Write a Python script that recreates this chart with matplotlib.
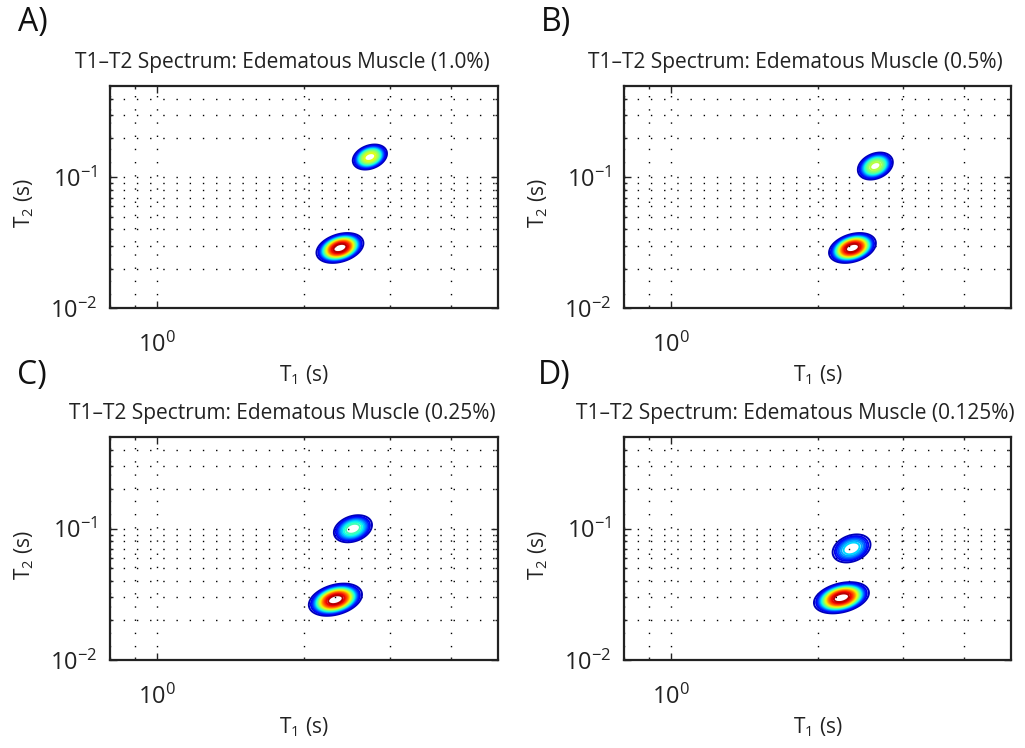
import numpy as np
import matplotlib
matplotlib.use("Agg")
import matplotlib.pyplot as plt
from matplotlib.colors import Normalize
from matplotlib.ticker import FixedLocator, FixedFormatter, NullFormatter

plt.rcParams['font.family'] = ['Open Sans', 'DejaVu Sans']
plt.rcParams['mathtext.fontset'] = 'custom'
plt.rcParams['mathtext.rm'] = 'Open Sans'
plt.rcParams['mathtext.it'] = 'Open Sans'
plt.rcParams['mathtext.bf'] = 'Open Sans'

# ---------------- data ----------------
panel_labels = ['A)', 'B)', 'C)', 'D)']
titles = ['T1\u2013T2 Spectrum: Edematous Muscle (1.0%)',
          'T1\u2013T2 Spectrum: Edematous Muscle (0.5%)',
          'T1\u2013T2 Spectrum: Edematous Muscle (0.25%)',
          'T1\u2013T2 Spectrum: Edematous Muscle (0.125%)']

# peak 1 (short T2 component)
lower_T1 = [2.37, 2.36, 2.32, 2.24]
lower_T2 = [0.0288, 0.0288, 0.0288, 0.0298]
lower_amp = [1.0, 1.0, 1.0, 1.0]
lower_sd_logT1 = [0.0240, 0.0240, 0.0272, 0.0282]
lower_sd_logT2 = [0.0570, 0.0570, 0.0612, 0.0593]
lower_corr = [0.32, 0.32, 0.32, 0.32]

# peak 2 (long T2 component)
upper_T1 = [2.73, 2.63, 2.52, 2.35]
upper_T2 = [0.143, 0.122, 0.100, 0.0708]
upper_amp = [0.66, 0.60, 0.47, 0.38]
upper_sd_logT1 = [0.0183, 0.0190, 0.0213, 0.0219]
upper_sd_logT2 = [0.0500, 0.0546, 0.0563, 0.0600]
upper_corr = [0.28, 0.28, 0.28, 0.28]

peak_shape = 1.6   # flat-topped peak profile exponent

xlim = [0.8, 5.0]
ylim = [0.01, 0.5]
x_ticks = [1.0]
x_ticklabels = [r'$10^{0}$']
y_ticks = [0.01, 0.1]
y_ticklabels = [r'$10^{-2}$', r'$10^{-1}$']
x_minor = [0.8, 0.9, 2, 3, 4]
y_minor = [0.02, 0.03, 0.04, 0.05, 0.06, 0.07, 0.08, 0.09, 0.2, 0.3, 0.4]
n_levels = 20

# ---------------- figure ----------------
W, H = 1025, 748
fig = plt.figure(figsize=(W / 100, H / 100), dpi=100)

# axes boxes in pixels: left, top, right, bottom
boxes = [(110, 86, 498, 308), (624, 86, 1011, 308),
         (110, 437, 498, 660), (624, 437, 1011, 660)]
label_pos = [(18, 31), (541, 31), (17, 384), (538, 384)]

t1 = np.logspace(np.log10(xlim[0]), np.log10(xlim[1]), 400)
t2 = np.logspace(np.log10(ylim[0]), np.log10(ylim[1]), 400)
T1, T2 = np.meshgrid(t1, t2)
L1, L2 = np.log10(T1), np.log10(T2)


def peak(c1, c2, a, s1, s2, r):
    u = (L1 - np.log10(c1)) / s1
    v = (L2 - np.log10(c2)) / s2
    q = (u * u - 2 * r * u * v + v * v) / (1 - r * r)
    return a * np.exp(-(0.5 * q) ** peak_shape)


for i in range(4):
    l, t, r, b = boxes[i]
    ax = fig.add_axes([l / W, 1 - b / H, (r - l) / W, (b - t) / H])
    Z = (peak(lower_T1[i], lower_T2[i], lower_amp[i], lower_sd_logT1[i],
              lower_sd_logT2[i], lower_corr[i]) +
         peak(upper_T1[i], upper_T2[i], upper_amp[i], upper_sd_logT1[i],
              upper_sd_logT2[i], upper_corr[i]))
    zmax = Z.max()
    levels = np.linspace(0, zmax, n_levels + 2)[1:-1]
    ax.contour(T1, T2, Z, levels=levels, cmap='jet',
               norm=Normalize(0, zmax), linewidths=1.4)
    ax.set_xscale('log')
    ax.set_yscale('log')
    ax.set_xlim(xlim)
    ax.set_ylim(ylim)

    ax.xaxis.set_major_locator(FixedLocator(x_ticks))
    ax.xaxis.set_major_formatter(FixedFormatter(x_ticklabels))
    ax.yaxis.set_major_locator(FixedLocator(y_ticks))
    ax.yaxis.set_major_formatter(FixedFormatter(y_ticklabels))
    ax.xaxis.set_minor_locator(FixedLocator(x_minor))
    ax.yaxis.set_minor_locator(FixedLocator(y_minor))
    ax.xaxis.set_minor_formatter(NullFormatter())
    ax.yaxis.set_minor_formatter(NullFormatter())

    ax.grid(True, which='both', color='black', linestyle=(0, (1, 8.5)),
            linewidth=1.0)
    ax.set_axisbelow(True)
    ax.tick_params(which='both', direction='in', top=True, right=True,
                   width=1.0, colors='#222222', labelcolor='#222222')
    ax.tick_params(which='major', length=5, labelsize=17)
    ax.tick_params(axis='x', which='major', pad=18)
    ax.tick_params(axis='y', which='major', pad=9)
    ax.tick_params(which='minor', length=2.5)
    for sp in ax.spines.values():
        sp.set_linewidth(1.6)
        sp.set_color('#222222')

    ax.set_title(titles[i], fontsize=15, x=0.443, pad=13, color='#222222')
    ax.set_xlabel(r'T$_{1}$ (s)', fontsize=15, color='#222222')
    ax.set_ylabel(r'T$_{2}$ (s)', fontsize=15, color='#222222')
    ax.xaxis.set_label_coords(0.5, -0.25)
    ax.yaxis.set_label_coords(-0.19, 0.47)

    fig.text(label_pos[i][0] / W, 1 - label_pos[i][1] / H, panel_labels[i],
             fontsize=23, ha='left', va='baseline', color='#111111')

fig.savefig('out.png', dpi=100)
